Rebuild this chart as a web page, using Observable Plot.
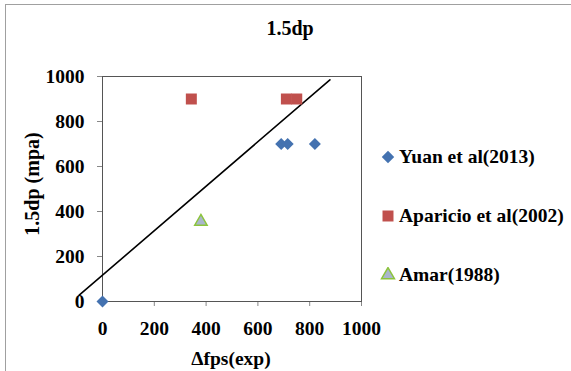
<!DOCTYPE html>
<html>
<head>
<meta charset="utf-8">
<script src="https://cdn.jsdelivr.net/npm/d3@7"></script>
<script src="https://cdn.jsdelivr.net/npm/@observablehq/plot@0.6"></script>
<style>
  html, body { margin: 0; padding: 0; background: #fff; overflow: hidden; }
  #wrap, #wrap * { font-family: "Liberation Serif", "Times New Roman", Times, serif !important; font-weight: bold; }
  #wrap { position: relative; width: 571px; height: 371px; overflow: hidden; color: #000; }
  #chart svg text { font-family: "Liberation Serif", "Times New Roman", Times, serif !important; font-weight: bold; font-size: 19.5px; }
  #border { position: absolute; left: 5px; top: 4px; width: 700px; height: 500px; border: 1px solid #a0a0a0; }
  #chart { position: absolute; left: 0; top: 0; }
  .title { position: absolute; left: 190px; width: 200px; top: 16px; text-align: center; font-size: 20px; line-height: 24px; }
  .xlabel { position: absolute; left: 131px; width: 200px; top: 347px; text-align: center; font-size: 19.5px; line-height: 24px; }
  .ylabel { position: absolute; left: 32px; top: 184px; transform: translate(-50%, -50%) rotate(-90deg); white-space: nowrap; font-size: 20px; line-height: 24px; }
  .legend { position: absolute; left: 380px; top: 0; }
  .item { position: absolute; left: 0; white-space: nowrap; font-size: 19.5px; line-height: 24px; display: flex; align-items: center; }
  .item svg { margin-right: 3px; }
</style>
</head>
<body>
<div id="wrap">
  <div id="border"></div>
  <div id="chart"></div>
  <div class="title">1.5dp</div>
  <div class="xlabel">Δfps(exp)</div>
  <div class="ylabel">1.5dp (mpa)</div>
  <div class="legend" id="legend"></div>
</div>
<script>
// ---- data ----
const yuanX = [0, 690, 715, 820];
const yuanY = [0, 700, 700, 700];
const aparicioX = [343, 710, 750];
const aparicioY = [900, 900, 900];
const amarX = [380];
const amarY = [355];
const trendX = [-90, 878];
const trendY = [28, 985];
const xTicks = [0, 200, 400, 600, 800, 1000];
const yTicks = [0, 200, 400, 600, 800, 1000];
const seriesNames = ["Yuan et al(2013)", "Aparicio et al(2002)", "Amar(1988)"];

const toRows = (xs, ys) => xs.map((x, i) => ({x, y: ys[i]}));
const yuan = toRows(yuanX, yuanY);
const aparicio = toRows(aparicioX, aparicioY);
const amar = toRows(amarX, amarY);
const trend = toRows(trendX, trendY);

const blue = "#4472B0", red = "#C0504D", triFill = "#A9B6CC", triStroke = "#8CC43C";
const fmt = d => String(d);

const plot = Plot.plot({
  width: 571,
  height: 371,
  marginLeft: 102,
  marginRight: 210,
  marginTop: 76,
  marginBottom: 70,
  style: {fontSize: "19.5px", color: "#000", background: "transparent"},
  x: {domain: [0, 1000], ticks: xTicks, label: null, tickFormat: fmt},
  y: {domain: [0, 1000], ticks: yTicks, label: null, tickFormat: fmt},
  marks: [
    Plot.axisX({ticks: xTicks, tickFormat: fmt, tickSize: 5, tickPadding: 15, stroke: "#888", fill: "#000", label: null}),
    Plot.axisY({ticks: yTicks, tickFormat: fmt, tickSize: 5, tickPadding: 13, stroke: "#888", fill: "#000", label: null}),
    Plot.frame({stroke: "#555"}),
    Plot.line(trend, {x: "x", y: "y", stroke: "#000", strokeWidth: 1.6}),
    Plot.dot(yuan, {x: "x", y: "y", symbol: "diamond2", r: 5.4, fill: blue, stroke: "none"}),
    Plot.dot(aparicio, {x: "x", y: "y", symbol: "square", r: 6.2, fill: red, stroke: "none"}),
    Plot.dot(amar, {x: "x", y: "y", symbol: "triangle", r: 4.6, fill: triFill, stroke: triStroke, strokeWidth: 1.5})
  ]
});
document.getElementById("chart").appendChild(plot);

// ---- legend ----
const legendSpec = [
  {name: seriesNames[0], sym: d3.symbolDiamond2, size: Math.PI * 5.6 * 5.6, fill: blue, stroke: "none", top: 157},
  {name: seriesNames[1], sym: d3.symbolSquare, size: Math.PI * 6.2 * 6.2, fill: red, stroke: "none", top: 216},
  {name: seriesNames[2], sym: d3.symbolTriangle, size: Math.PI * 4.8 * 4.8, fill: triFill, stroke: triStroke, top: 275}
];
const legend = document.getElementById("legend");
legendSpec.forEach(s => {
  const div = document.createElement("div");
  div.className = "item";
  div.style.top = (s.top - 12) + "px";
  const svg = d3.create("svg").attr("width", 16).attr("height", 16);
  svg.append("path")
    .attr("transform", "translate(8,8)")
    .attr("d", d3.symbol(s.sym, s.size)())
    .attr("fill", s.fill)
    .attr("stroke", s.stroke)
    .attr("stroke-width", 1.5);
  div.appendChild(svg.node());
  const span = document.createElement("span");
  span.textContent = s.name;
  div.appendChild(span);
  legend.appendChild(div);
});
</script>
</body>
</html>
